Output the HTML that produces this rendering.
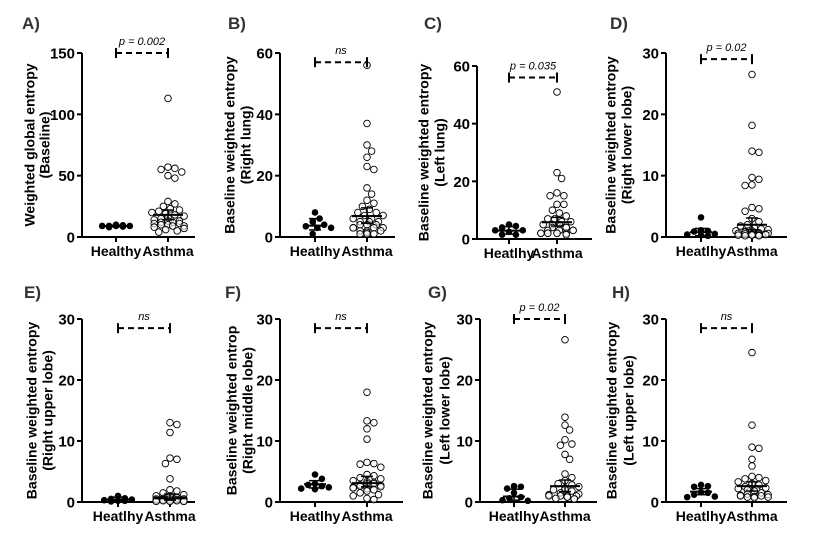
<!DOCTYPE html>
<html><head><meta charset="utf-8"><style>
html,body{margin:0;padding:0;background:#fff;}
svg text{font-family:"Liberation Sans",Arial,sans-serif;}
</style></head><body>
<svg id="fig" width="831" height="540" viewBox="0 0 831 540" xmlns="http://www.w3.org/2000/svg"></svg>
<script>
// ---------- data ----------
const categories = ["Healthy", "Asthma"];
const panelLabels = ["A)","B)","C)","D)","E)","F)","G)","H)"];
const catLabelA = ["Healthy","Asthma"];
const catLabelOther = ["Heatlhy","Asthma"];
const titles1 = ["Weighted global entropy","Baseline weighted entropy","Baseline weighted entropy","Baseline weighted entropy","Baseline weighted entropy","Baseline weighted entrop","Baseline weighted entropy","Baseline weighted entropy"];
const titles2 = ["(Baseline)","(Right lung)","(Left lung)","(Right lower lobe)","(Right upper lobe)","(Right middle lobe)","(Left lower lobe)","(Left upper lobe)"];
const yMax = [150,60,60,30,30,30,30,30];
const yTicks = [[0,50,100,150],[0,20,40,60],[0,20,40,60],[0,10,20,30],[0,10,20,30],[0,10,20,30],[0,10,20,30],[0,10,20,30]];
const pTexts = ["p = 0.002","ns","p = 0.035","p = 0.02","ns","ns","p = 0.02","ns"];
const bracketVals = [150,57,56,29,28.5,28.5,30,28.5];

const healthy = [
 [9,10,9,8.5,9,9.5,8,9],
 [8,6,5,4,3.5,3,3,1],
 [5,4.5,4,3,3,2.5,1.5,1.5],
 [3.2,1.1,1,0.9,0.5,0.4,0.3,0.2],
 [1,0.6,0.5,0.4,0.3,0.2,0.2,0.1],
 [4.5,3.8,3,2.8,2.6,2.4,2.2,2.1],
 [2.6,2.5,2.2,1.5,0.8,0.6,0.3,0.2],
 [2.8,2.6,2.5,1.6,1.5,1.2,0.9,0.8]
];
const asthma = [
 [113,57,56,55,53,50,48,29,27,25,23,22,21,20,19,18,17,16,15,14,13,13,12,12,11,11,10,10,9,9,8,7,6,5,4],
 [56,37,30,28,26,23,22,16,14,12,11,10,9,8,8,7,7,6,6,5,5,5,4,4,4,3,3,3,3,2,2,2,1.5,1,1,1],
 [51,23,21,16,15,15,12,12,10,9,8,7,7,6,6,5,5,5,4,4,4,3,3,3,3,2,2,2,2,2,2,2,1.5],
 [26.5,18.2,14,13.8,9.7,9.4,8.5,8.4,4.8,4.6,4.2,3,2.5,2,1.8,1.5,1.3,1.2,1,1,0.9,0.8,0.7,0.6,0.6,0.5,0.5,0.5,0.4,0.4,0.3,0.3,0.3,0.2,0.2],
 [13,12.7,11.4,7.2,7,6.3,3.8,2,1.8,1.5,1.2,1,1,0.9,0.8,0.7,0.6,0.5,0.5,0.5,0.4,0.4,0.3,0.3,0.3,0.2,0.2,0.2,0.1,0.1,0.1,0.1],
 [18,13.3,13,12,10.3,6.5,6.3,6.2,5.7,4.5,4.3,4,3.8,3.5,3.3,3.2,3,3,2.8,2.7,2.6,2.5,2.4,2.3,2.2,2,1.8,1.5,1.2,1,0.6,0.4],
 [26.6,13.9,12.6,11.8,10.2,9.5,9.3,7.8,7,4.6,4,3.5,3,2.8,2.5,2.3,2,2,1.8,1.5,1.3,1.2,1,1,1,1,0.8,0.8,0.6,0.5,0.5],
 [24.5,12.6,9,8.8,7,5.9,4.2,4,3.8,3.5,3.3,3,3,2.8,2.5,2.3,2.2,2,2,1.8,1.5,1.3,1.2,1.1,1,1,0.9,0.8,0.8,0.7]
];
const healthyMean = [9,3.7,2.9,0.8,0.4,2.9,0.9,1.7];
const healthyLo = [8.5,2.3,1.7,0.2,0.1,2.3,0.3,1.2];
const healthyHi = [9.5,6,4.3,1.4,0.8,3.5,2.1,2.2];
const asthmaMean = [18,6.8,5.8,2.0,0.6,3.1,2.6,2.6];
const asthmaLo = [14,4.5,4.5,1.2,0.3,2.5,1.7,1.8];
const asthmaHi = [22,9.5,7.5,3.1,1.3,4.2,3.6,3.3];

// ---------- layout ----------
const layout = [
 {ax:82,top:53,bot:237,right:195,h:116,a:168,lx:22,ly:29,t1:31,t2:46},
 {ax:280,top:53,bot:237,right:395,h:315,a:367,lx:228,ly:29,t1:231,t2:247},
 {ax:477,top:66,bot:239,right:592,h:509,a:557,lx:424,ly:29,t1:425,t2:441},
 {ax:666,top:53,bot:237,right:787,h:701,a:752,lx:610,ly:29,t1:612,t2:628},
 {ax:82,top:319,bot:502,right:195,h:118,a:170,lx:24,ly:298,t1:33,t2:49},
 {ax:280,top:319,bot:502,right:403,h:315,a:367,lx:225,ly:298,t1:233,t2:249},
 {ax:480,top:319,bot:502,right:597,h:514,a:565,lx:428,ly:298,t1:429,t2:446},
 {ax:666,top:319,bot:502,right:787,h:701,a:752,lx:612,ly:298,t1:613,t2:630}
];
const NS = "http://www.w3.org/2000/svg";
const svg = document.getElementById("fig");
function mk(tag, attrs, parent){
  const e = document.createElementNS(NS, tag);
  for (const k in attrs) e.setAttribute(k, attrs[k]);
  (parent||svg).appendChild(e);
  return e;
}
const R = 3.3;
function swarm(vals, cx, yf){
  const ord = vals.map((v,i)=>i).sort((a,b)=>vals[b]-vals[a]);
  const placed = [];
  const out = [];
  const thr = 2*R;
  ord.forEach(i=>{
    const y = yf(vals[i]);
    let best = cx, bestCnt = 1e9;
    for (let k=0;k<15;k++){
      const off = (k%2?1:-1)*Math.ceil(k/2)*2.3;
      const x = cx+off;
      let cnt = 0;
      for (const p of placed){ const dx=p[0]-x, dy=p[1]-y; if (dx*dx+dy*dy < thr*thr) cnt++; }
      if (cnt < bestCnt){bestCnt=cnt;best=x;}
      if (cnt===0) break;
    }
    placed.push([best,y]);
    out.push([best,y,vals[i]]);
  });
  return out;
}
layout.forEach((L,pi)=>{
  const g = mk("g",{});
  
  
  const yf = v => L.bot - v/yMax[pi]*(L.bot-L.top);
  const pl = mk("text",{x:L.lx,y:L.ly,"font-size":17,"font-weight":"bold",fill:"#333"},g);
  pl.textContent = panelLabels[pi];
  
  
  const ya = mk("line",{x1:L.ax,y1:L.top,x2:L.ax,y2:L.bot+1,stroke:"#000","stroke-width":2},g);
  
  
  const xa = mk("line",{x1:L.ax-1,y1:L.bot,x2:L.right,y2:L.bot,stroke:"#000","stroke-width":2},g);
  
  
  yTicks[pi].forEach(t=>{
    const y = yf(t);
    mk("line",{x1:L.ax-5,y1:y,x2:L.ax,y2:y,stroke:"#000","stroke-width":2},g);
    const tl = mk("text",{x:L.ax-7,y:y+5.5,"font-size":15,"font-weight":"bold","text-anchor":"end"},g);
    tl.textContent = t;
    
    
  });
  const labs = pi===0?catLabelA:catLabelOther;
  [L.h,L.a].forEach((cx,ci)=>{
    mk("line",{x1:cx,y1:L.bot,x2:cx,y2:L.bot+5,stroke:"#000","stroke-width":2},g);
    const cl = mk("text",{x:cx,y:L.bot+19,"font-size":14,"font-weight":"bold","text-anchor":"middle"},g);
    cl.textContent = labs[ci];
    
    
  });
  const cy = (L.top+L.bot)/2;
  [[titles1[pi],L.t1],[titles2[pi],L.t2]].forEach(tp=>{
    const x = tp[1];
    const tt = mk("text",{x:x,y:cy,"font-size":14,"font-weight":"bold","text-anchor":"middle",transform:`rotate(-90 ${x} ${cy})`,"dominant-baseline":"middle"},g);
    tt.textContent = tp[0];
    
    
  });
  swarm(healthy[pi], L.h, yf).forEach(p=>{
    const c = mk("circle",{cx:p[0],cy:p[1],r:R,fill:"#000"},g);
    
    
  });
  swarm(asthma[pi], L.a, yf).forEach(p=>{
    const c = mk("circle",{cx:p[0],cy:p[1],r:R,fill:"#fff",stroke:"#000","stroke-width":0.9,"fill-opacity":0.6},g);
    
    
  });
  [[L.h,healthyMean[pi],healthyLo[pi],healthyHi[pi],11],[L.a,asthmaMean[pi],asthmaLo[pi],asthmaHi[pi],15]].forEach(s=>{
    const [cx,m,lo,hi,w] = s;
    const ml = mk("line",{x1:cx-w,y1:yf(m),x2:cx+w,y2:yf(m),stroke:"#000","stroke-width":2},g);
    
    
    mk("line",{x1:cx,y1:yf(lo),x2:cx,y2:yf(hi),stroke:"#000","stroke-width":1.5},g);
    mk("line",{x1:cx-6,y1:yf(lo),x2:cx+6,y2:yf(lo),stroke:"#000","stroke-width":1.5},g);
    mk("line",{x1:cx-6,y1:yf(hi),x2:cx+6,y2:yf(hi),stroke:"#000","stroke-width":1.5},g);
  });
  const by = yf(bracketVals[pi]);
  const br = mk("line",{x1:L.h,y1:by,x2:L.a,y2:by,stroke:"#000","stroke-width":2,"stroke-dasharray":"6,4"},g);
  
  
  mk("line",{x1:L.h,y1:by-5,x2:L.h,y2:by+5,stroke:"#000","stroke-width":2},g);
  mk("line",{x1:L.a,y1:by-5,x2:L.a,y2:by+5,stroke:"#000","stroke-width":2},g);
  const pt = mk("text",{x:(L.h+L.a)/2,y:by-8,"font-size":11,"font-style":"italic","text-anchor":"middle"},g);
  pt.textContent = pTexts[pi];
  
  
});
</script>
</body></html>
